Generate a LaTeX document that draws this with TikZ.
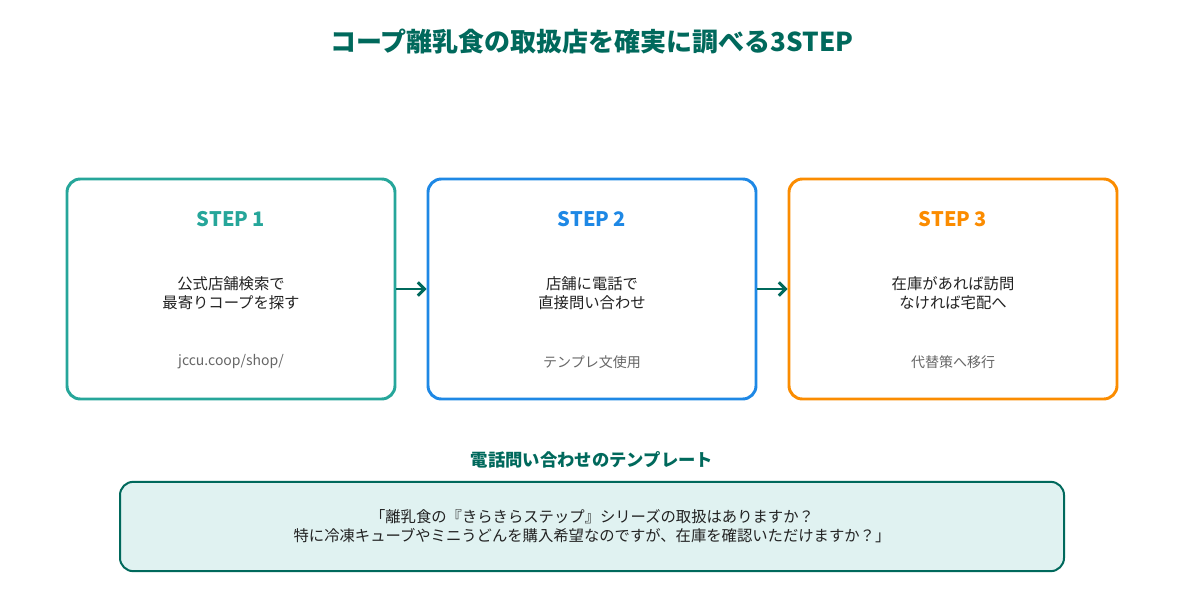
\documentclass[tikz,border=0pt]{standalone}
\usepackage{fontspec}
\setmainfont{Noto Sans CJK JP}
\usetikzlibrary{arrows.meta}
\definecolor{dteal}{HTML}{00695C}
\definecolor{cA}{HTML}{26A69A}
\definecolor{cB}{HTML}{1E88E5}
\definecolor{cC}{HTML}{FB8C00}
\definecolor{tfill}{HTML}{E0F2F1}
\definecolor{txt}{HTML}{222222}
\definecolor{gr}{HTML}{666666}
\tikzset{
 step/.style={draw=#1,line width=2.2pt,rounded corners=10pt,minimum width=246pt,minimum height=165pt,inner sep=0pt},
 sttl/.style={font=\fontsize{15}{18}\selectfont\bfseries,text=#1},
 body/.style={font=\fontsize{11.5}{14.5}\selectfont,text=txt,align=center},
 note/.style={font=\fontsize{10.5}{13}\selectfont,text=gr},
 arr/.style={-{Straight Barb[length=5pt,width=10pt]},line width=2.2pt,draw=dteal},
}
\begin{document}
\begin{tikzpicture}[x=0.75pt,y=-0.75pt]
\useasboundingbox[fill=white] (0,0) rectangle (1184,614);
\node[font=\fontsize{19.5}{22}\selectfont\bfseries,text=dteal] (title) at (592,42) {コープ離乳食の取扱店を確実に調べる3STEP};
\node[step=cA] (s1) at (231,289) {};
\node[step=cB] (s2) at (592,289) {};
\node[step=cC] (s3) at (953,289) {};
\node[sttl=cA] (t1) at (231,219) {STEP 1};
\node[sttl=cB] (t2) at (592,219) {STEP 2};
\node[sttl=cC] (t3) at (953,219) {STEP 3};
\node[body] (b1) at (231,293) {公式店舗検索で\\最寄りコープを探す};
\node[body] (b2) at (592,293) {店舗に電話で\\直接問い合わせ};
\node[body] (b3) at (953,293) {在庫があれば訪問\\なければ宅配へ};
\node[note] (n1) at (231,362) {jccu.coop/shop/};
\node[note] (n2) at (592,362) {テンプレ文使用};
\node[note] (n3) at (953,362) {代替策へ移行};
\draw[arr] (s1.east) -- (s2.west);
\draw[arr] (s2.east) -- (s3.west);
\node[font=\fontsize{13}{16}\selectfont\bfseries,text=dteal] (th) at (592,460) {電話問い合わせのテンプレート};
\node[draw=dteal,fill=tfill,line width=1.5pt,rounded corners=10pt,minimum width=708pt,minimum height=67pt] (tb) at (592,526.5) {};
\node[body] (tt) at (592,526) {「離乳食の『きらきらステップ』シリーズの取扱はありますか？\\特に冷凍キューブやミニうどんを購入希望なのですが、在庫を確認いただけますか？」};
\end{tikzpicture}
\end{document}
